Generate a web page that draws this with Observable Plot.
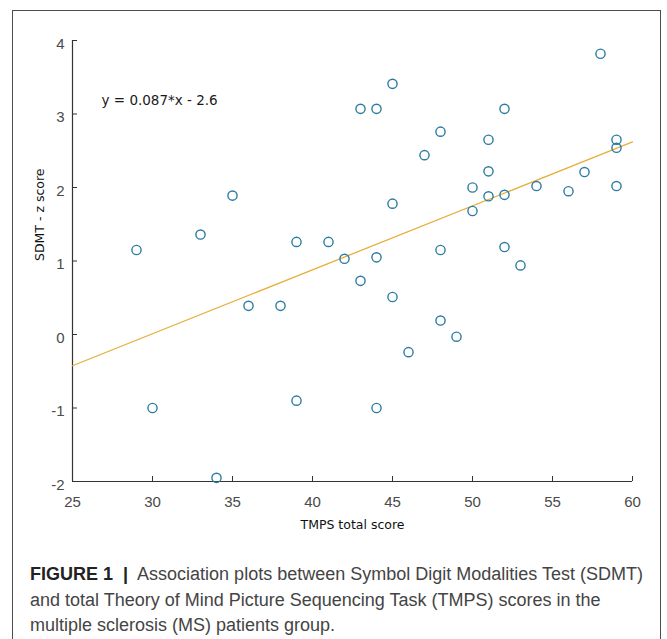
<!DOCTYPE html>
<html>
<head>
<meta charset="utf-8">
<script src="https://cdn.jsdelivr.net/npm/d3@7"></script>
<script src="https://cdn.jsdelivr.net/npm/@observablehq/plot@0.6"></script>
<style>
html,body{margin:0;padding:0;background:#fff;overflow:hidden;width:667px;height:639px;}
#chart{position:absolute;left:0;top:0;}
#frame{position:absolute;left:12px;top:10px;width:647px;height:700px;border:1.5px solid #4d4d4d;border-bottom:none;pointer-events:none;}
#caption{position:absolute;left:30px;top:562px;width:632px;font-family:"Liberation Sans",Arial,sans-serif;font-size:18px;line-height:25.5px;color:#444;white-space:nowrap;}
#caption b{color:#222;}
</style>
</head>
<body>
<div id="chart"></div>
<div id="frame"></div>
<div id="caption"><b>FIGURE 1&nbsp; |&nbsp;</b> Association plots between Symbol Digit Modalities Test (SDMT)<br>and total Theory of Mind Picture Sequencing Task (TMPS) scores in the<br>multiple sclerosis (MS) patients group.</div>
<script>
// TMPS total score (x) and SDMT z score (y)
const tmps = [29, 30, 33, 34, 35, 36, 38, 39, 39, 41, 42, 43, 43, 44, 44, 44, 45, 45, 45, 46, 47, 48, 48, 48, 49, 50, 50, 51, 51, 51, 52, 52, 52, 53, 54, 56, 57, 58, 59, 59, 59];
const sdmt = [1.15, -1.0, 1.36, -1.95, 1.89, 0.39, 0.39, 1.26, -0.9, 1.26, 1.03, 3.07, 0.73, 3.07, 1.05, -1.0, 3.41, 1.78, 0.51, -0.24, 2.44, 2.76, 1.15, 0.19, -0.03, 2.0, 1.68, 2.65, 2.22, 1.88, 3.07, 1.9, 1.19, 0.94, 2.02, 1.95, 2.21, 3.82, 2.65, 2.54, 2.02];

const xTicks = [25, 30, 35, 40, 45, 50, 55, 60];
const yTicks = [-2, -1, 0, 1, 2, 3, 4];
const xDomain = [25, 60];
const yDomain = [-2, 4];

// fitted line as printed on the chart
const fitSlope = 0.087;
const fitIntercept = -2.6;
const fitLabel = ["y = 0.087*x - 2.6"];
const xLabel = ["TMPS total score"];
const yLabel = ["SDMT - z score"];

const points = tmps.map((x, i) => ({x, y: sdmt[i]}));
const fitLine = xDomain.map(x => ({x, y: fitSlope * x + fitIntercept}));

const axisColor = "#333";
const tickTextColor = "#4a4a4a";
const plainNum = d => String(d);

const chart = Plot.plot({
  width: 667,
  height: 545,
  marginLeft: 72,
  marginRight: 35,
  marginTop: 40,
  marginBottom: 64,
  x: {domain: xDomain},
  y: {domain: yDomain},
  style: {fontFamily: "'Liberation Sans', Arial, sans-serif", fontSize: "15px", background: "transparent", overflow: "visible"},
  marks: [
    Plot.axisX(xTicks, {tickSize: 0, tickPadding: 15, fill: tickTextColor, fontSize: 15, tickFormat: plainNum, label: null}),
    Plot.axisX(xTicks, {tickSize: 5, dy: -5, stroke: axisColor, tickFormat: () => "", label: null}),
    Plot.axisY(yTicks, {tickSize: 0, tickPadding: 8, dy: 3.5, fill: tickTextColor, fontSize: 15, tickFormat: plainNum, label: null}),
    Plot.axisY(yTicks, {tickSize: 5, dx: 5, stroke: axisColor, tickFormat: () => "", label: null}),
    Plot.ruleX([xDomain[0]], {stroke: axisColor, strokeWidth: 1.2}),
    Plot.ruleY([yDomain[0]], {stroke: axisColor, strokeWidth: 1.2}),
    Plot.line(fitLine, {x: "x", y: "y", stroke: "#e8ad3a", strokeWidth: 1.3}),
    Plot.dot(points, {x: "x", y: "y", r: 4.6, stroke: "#2b7ca2", strokeWidth: 1.4, fill: "none"}),
    Plot.text(fitLabel, {text: d => d, frameAnchor: "top-left", dx: 29, dy: 55, textAnchor: "start", fontFamily: "'DejaVu Sans', Verdana, sans-serif", fontSize: 13.5, fill: "#1a1a1a"}),
    Plot.text(xLabel, {text: d => d, frameAnchor: "bottom", dy: 47, fontFamily: "'DejaVu Sans', Verdana, sans-serif", fontSize: 12.5, fill: "#111"}),
    Plot.text(yLabel, {text: d => d, frameAnchor: "left", dx: -33, rotate: -90, fontFamily: "'DejaVu Sans', Verdana, sans-serif", fontSize: 12.5, fill: "#111"})
  ]
});
document.getElementById("chart").appendChild(chart);
</script>
</body>
</html>
